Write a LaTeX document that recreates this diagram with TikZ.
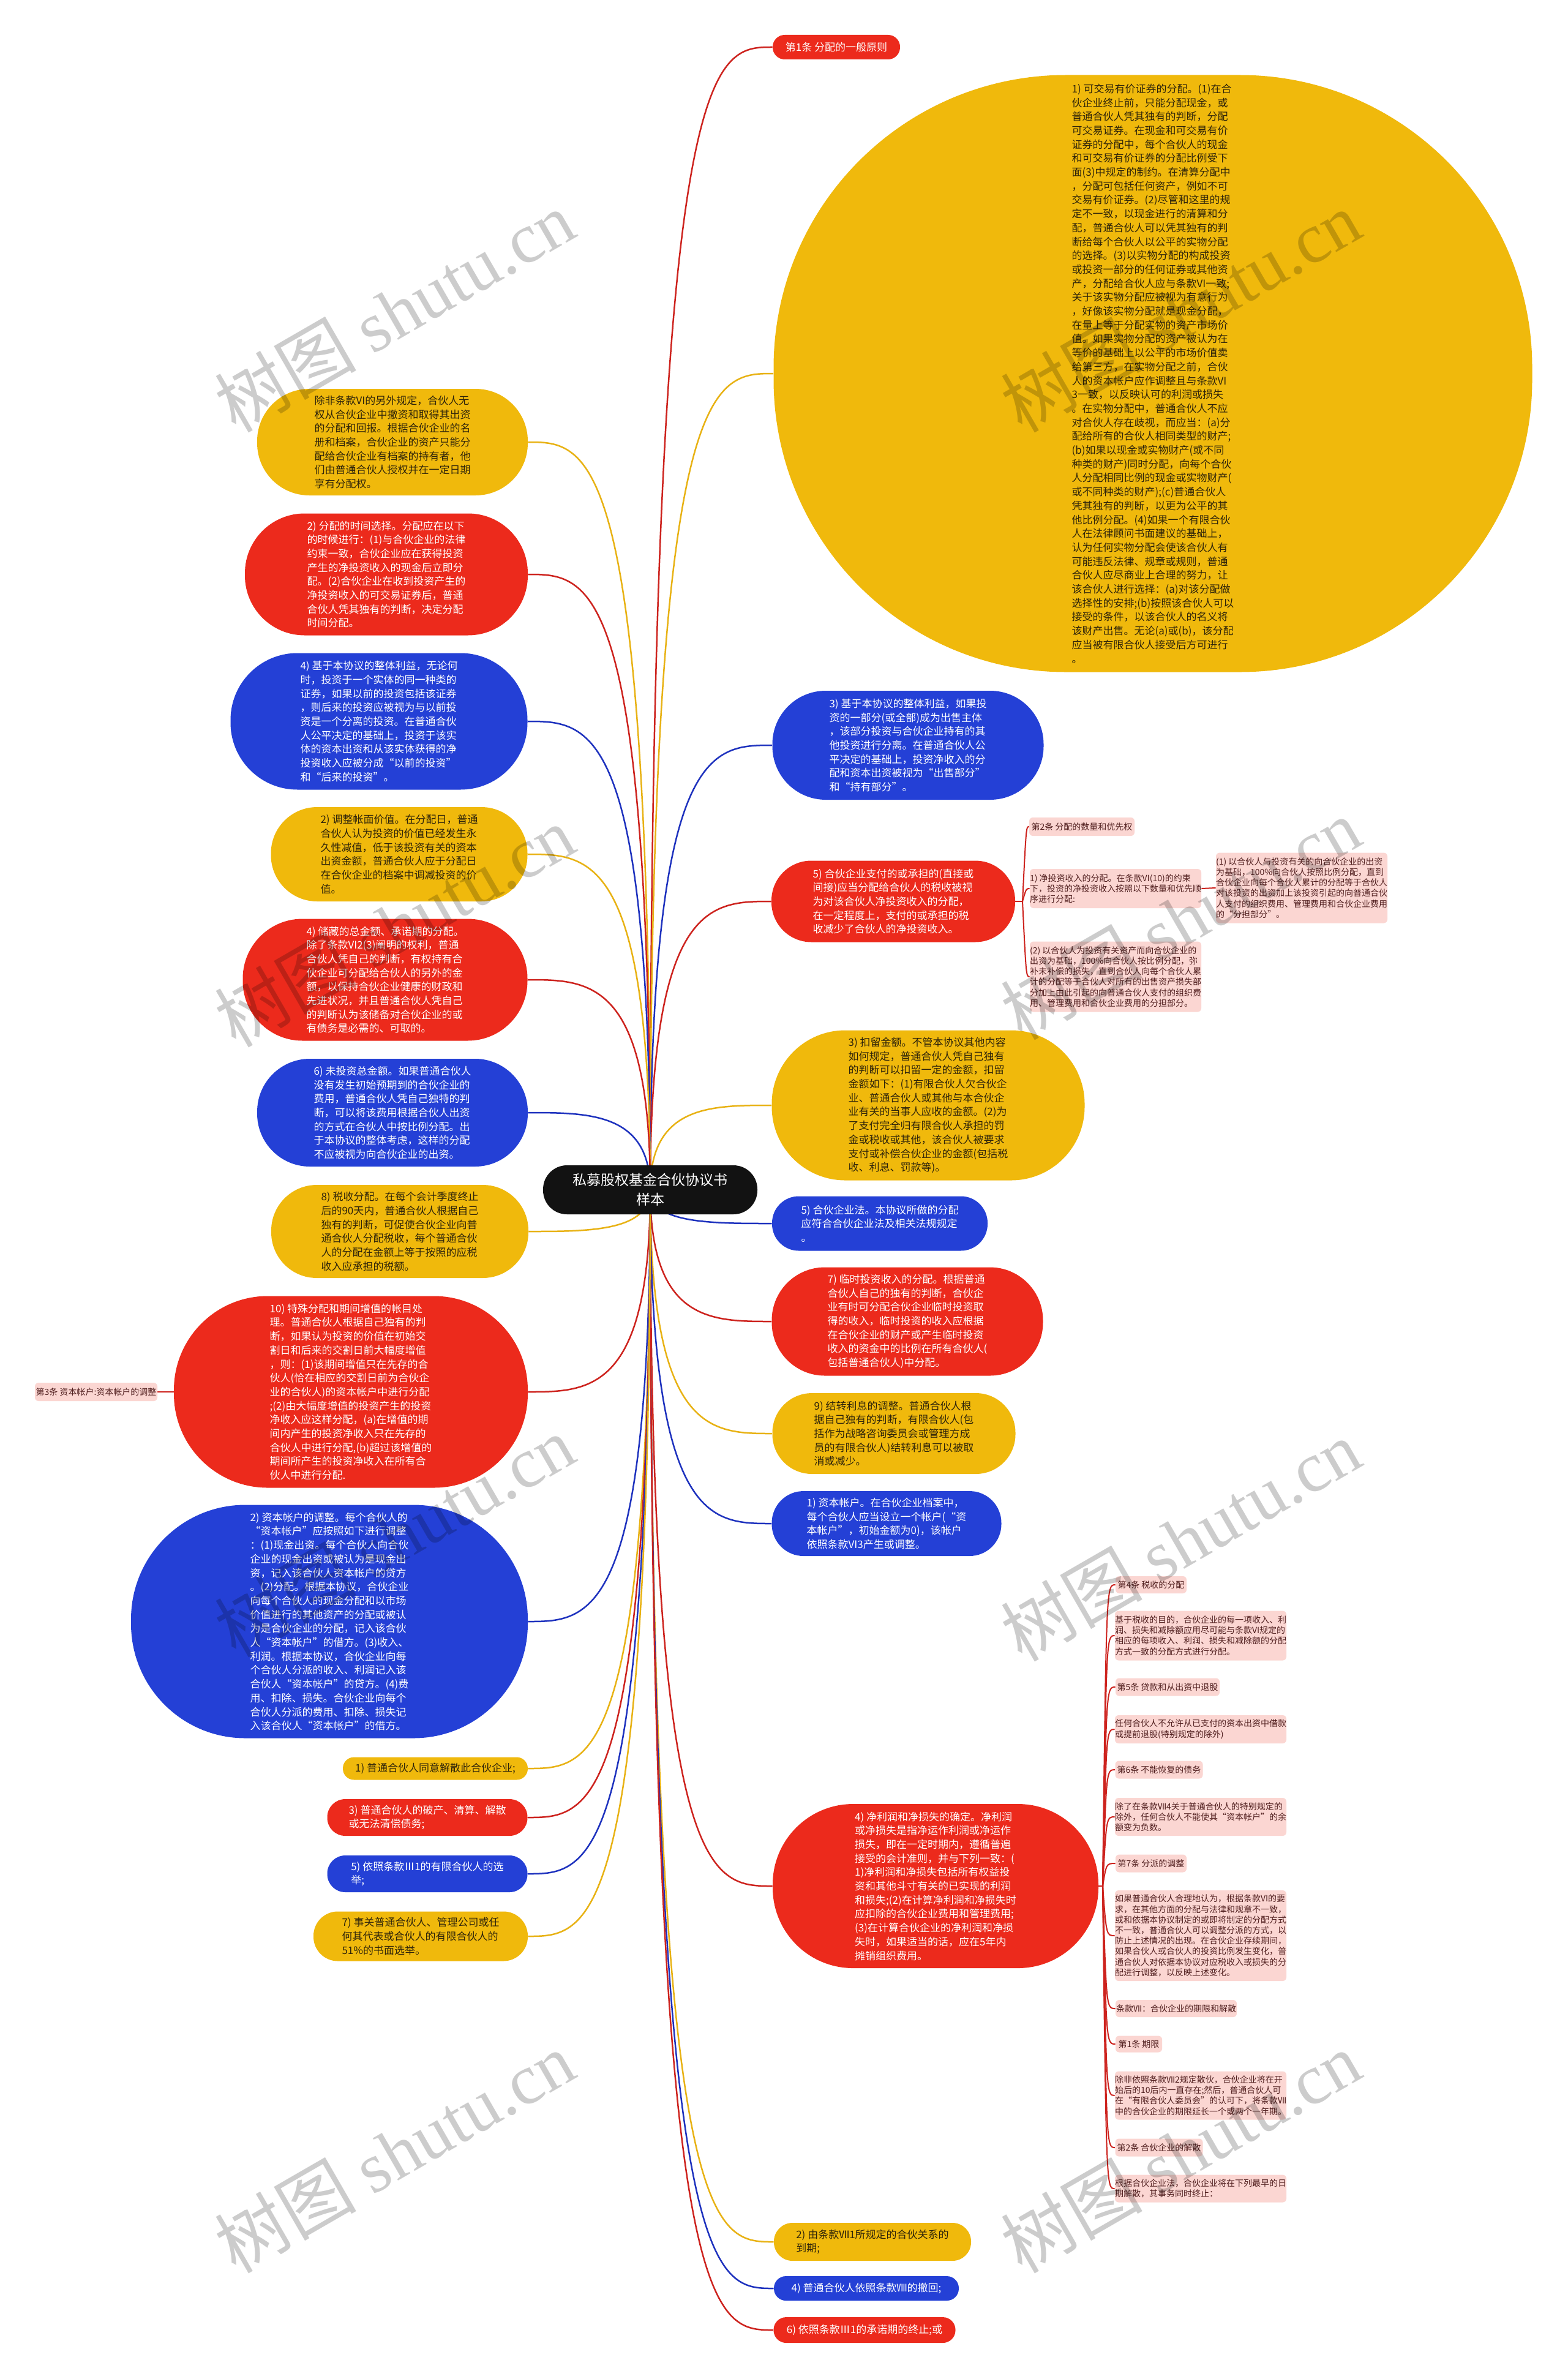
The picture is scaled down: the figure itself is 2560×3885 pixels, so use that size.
\documentclass[tikz,border=0pt]{standalone}
\usepackage{fontspec}
\setmainfont{Noto Sans CJK SC}
\newfontfamily\wmlatin{Liberation Serif}
\usetikzlibrary{calc}
\pgfdeclarelayer{bg}
\pgfsetlayers{bg,main}
\definecolor{cy}{RGB}{240,185,12}
\definecolor{cr}{RGB}{236,42,28}
\definecolor{cb}{RGB}{36,64,214}
\definecolor{cp}{RGB}{251,214,210}
\definecolor{tyel}{RGB}{45,35,10}
\definecolor{tpink}{RGB}{80,30,30}
\definecolor{ly}{RGB}{232,178,20}
\definecolor{lr}{RGB}{205,35,30}
\definecolor{lb}{RGB}{30,50,190}
\tikzset{
  mfont/.style={font=\fontsize{8.5}{11.35}\selectfont},
  yn/.style={mfont, fill=cy, text=tyel},
  rn/.style={mfont, fill=cr, text=white},
  bn/.style={mfont, fill=cb, text=white},
  pn/.style={font=\fontsize{7}{8.6}\selectfont, fill=cp, text=tpink},
  yl/.style={draw=ly, line width=1.25pt},
  rl/.style={draw=lr, line width=1.25pt},
  bl/.style={draw=lb, line width=1.25pt},
  pl/.style={draw=lr, line width=1pt},
  wm/.style={rotate=30, text=black, text opacity=0.2, font=\fontsize{58}{60}\selectfont}
}
\newcommand\mnode[7]{\node[#6, align=left, inner sep=0pt, minimum width=#4*0.5pt, minimum height=#5*0.5pt, rounded corners=#5*0.245pt] (#1) at (#2,#3) {#7};}
\newcommand\pnode[6]{\node[pn, align=left, inner sep=0pt, minimum width=#4*0.5pt, minimum height=#5*0.5pt, rounded corners=3pt] (#1) at (#2,#3) {#6};}
\newcommand\ctrl[2]{\draw[#1] (C.center) .. controls (C.center |- #2) and ($(C.center |- #2)!0.5!(#2)$) .. (#2);}
\newcommand\spine[2]{\draw[pl] (#1) .. controls ($(#1 |- #2)+(6,0)$) .. (#2);}
\begin{document}
\begin{tikzpicture}[x=0.5pt, y=-0.5pt]
\useasboundingbox (0,0) rectangle (2560,3885);
\begin{pgfonlayer}{bg}
\fill[white] (0,0) rectangle (2560,3885);
\end{pgfonlayer}

% centre
\node[fill=black!93, text=white, align=center, inner sep=0pt, minimum width=175pt, minimum height=40pt, rounded corners=19.5pt, font=\fontsize{11.5}{16}\selectfont] (C) at (1062,1943) {私募股权基金合伙协议书\\样本};

% right side
\mnode{R0}{1366}{77}{208}{40}{rn}{第1条 分配的一般原则}
\mnode{R1}{1883}{610}{1239}{975}{yn}{1) 可交易有价证券的分配。(1)在合\\伙企业终止前，只能分配现金，或\\普通合伙人凭其独有的判断，分配\\可交易证券。在现金和可交易有价\\证券的分配中，每个合伙人的现金\\和可交易有价证券的分配比例受下\\面(3)中规定的制约。在清算分配中\\，分配可包括任何资产，例如不可\\交易有价证券。(2)尽管和这里的规\\定不一致，以现金进行的清算和分\\配，普通合伙人可以凭其独有的判\\断给每个合伙人以公平的实物分配\\的选择。(3)以实物分配的构成投资\\或投资一部分的任何证券或其他资\\产，分配给合伙人应与条款VI一致;\\关于该实物分配应被视为有意行为\\，好像该实物分配就是现金分配，\\在量上等于分配实物的资产市场价\\值。如果实物分配的资产被认为在\\等价的基础上以公平的市场价值卖\\给第三方，在实物分配之前，合伙\\人的资本帐户应作调整且与条款VI\\3一致，以反映认可的利润或损失\\。在实物分配中，普通合伙人不应\\对合伙人存在歧视，而应当：(a)分\\配给所有的合伙人相同类型的财产;\\(b)如果以现金或实物财产(或不同\\种类的财产)同时分配，向每个合伙\\人分配相同比例的现金或实物财产(\\或不同种类的财产);(c)普通合伙人\\凭其独有的判断，以更为公平的其\\他比例分配。(4)如果一个有限合伙\\人在法律顾问书面建议的基础上，\\认为任何实物分配会使该合伙人有\\可能违反法律、规章或规则，普通\\合伙人应尽商业上合理的努力，让\\该合伙人进行选择：(a)对该分配做\\选择性的安排;(b)按照该合伙人可以\\接受的条件，以该合伙人的名义将\\该财产出售。无论(a)或(b)，该分配\\应当被有限合伙人接受后方可进行\\。}
\mnode{R2}{1483}{1217}{443}{178}{bn}{3) 基于本协议的整体利益，如果投\\资的一部分(或全部)成为出售主体\\，该部分投资与合伙企业持有的其\\他投资进行分离。在普通合伙人公\\平决定的基础上，投资净收入的分\\配和资本出资被视为“出售部分”\\和“持有部分”。}
\mnode{R3}{1459}{1472}{398}{133}{rn}{5) 合伙企业支付的或承担的(直接或\\间接)应当分配给合伙人的税收被视\\为对该合伙人净投资收入的分配，\\在一定程度上，支付的或承担的税\\收减少了合伙人的净投资收入。}
\pnode{R3a}{1767}{1350}{172}{30}{第2条 分配的数量和优先权}
\pnode{R3b}{1822}{1451}{279}{64}{1) 净投资收入的分配。在条款VI(10)的约束\\下，投资的净投资收入按照以下数量和优先顺\\序进行分配:}
\pnode{R3d}{2126}{1450}{279}{115}{(1) 以合伙人与投资有关的向合伙企业的出资\\为基础，100\%向合伙人按照比例分配，直到\\合伙企业向每个合伙人累计的分配等于合伙人\\对该投资的出资加上该投资引起的向普通合伙\\人支付的组织费用、管理费用和合伙企业费用\\的“分担部分”。}
\pnode{R3c}{1822}{1595}{279}{115}{(2) 以合伙人为投资有关资产而向合伙企业的\\出资为基础，100\%向合伙人按比例分配，弥\\补未补偿的损失，直到合伙人向每个合伙人累\\计的分配等于合伙人对所有的出售资产损失部\\分加上由此引起的向普通合伙人支付的组织费\\用、管理费用和合伙企业费用的分担部分。}
\mnode{R4}{1516}{1805}{511}{245}{yn}{3) 扣留金额。不管本协议其他内容\\如何规定，普通合伙人凭自己独有\\的判断可以扣留一定的金额，扣留\\金额如下：(1)有限合伙人欠合伙企\\业、普通合伙人或其他与本合伙企\\业有关的当事人应收的金额。(2)为\\了支付完全归有限合伙人承担的罚\\金或税收或其他，该合伙人被要求\\支付或补偿合伙企业的金额(包括税\\收、利息、罚款等)。}
\mnode{R5}{1437}{1998}{352}{89}{bn}{5) 合伙企业法。本协议所做的分配\\应符合合伙企业法及相关法规规定\\。}
\mnode{R6}{1482}{2158}{443}{177}{rn}{7) 临时投资收入的分配。根据普通\\合伙人自己的独有的判断，合伙企\\业有时可分配合伙企业临时投资取\\得的收入，临时投资的收入应根据\\在合伙企业的财产或产生临时投资\\收入的资金中的比例在所有合伙人(\\包括普通合伙人)中分配。}
\mnode{R7}{1460}{2341}{397}{132}{yn}{9) 结转利息的调整。普通合伙人根\\据自己独有的判断，有限合伙人(包\\括作为战略咨询委员会或管理方成\\员的有限合伙人)结转利息可以被取\\消或减少。}
\mnode{R8}{1448}{2488}{375}{106}{bn}{1) 资本帐户。在合伙企业档案中，\\每个合伙人应当设立一个帐户(“资\\本帐户”，初始金额为0)，该帐户\\依照条款VI3产生或调整。}
\mnode{R9}{1528}{3080}{532}{268}{rn}{4) 净利润和净损失的确定。净利润\\或净损失是指净运作利润或净运作\\损失，即在一定时期内，遵循普遍\\接受的会计准则，并与下列一致：(\\1)净利润和净损失包括所有权益投\\资和其他斗寸有关的已实现的利润\\和损失;(2)在计算净利润和净损失时\\应扣除的合伙企业费用和管理费用;\\(3)在计算合伙企业的净利润和净损\\失时，如果适当的话，应在5年内\\摊销组织费用。}
\pnode{P1}{1880}{2588}{116}{28}{第4条 税收的分配}
\pnode{P2}{1961}{2671}{278}{81}{基于税收的目的，合伙企业的每一项收入、利\\润、损失和减除额应用尽可能与条款VI规定的\\相应的每项收入、利润、损失和减除额的分配\\方式一致的分配方式进行分配。}
\pnode{P3}{1907}{2755}{170}{29}{第5条 贷款和从出资中退股}
\pnode{P4}{1961}{2824}{278}{46}{任何合伙人不允许从已支付的资本出资中借款\\或提前退股(特别规定的除外)}
\pnode{P5}{1893}{2890}{143}{29}{第6条 不能恢复的债务}
\pnode{P6}{1961}{2967}{278}{62}{除了在条款Ⅶ4关于普通合伙人的特别规定的\\除外，任何合伙人不能使其“资本帐户”的余\\额变为负数。}
\pnode{P7}{1880}{3043}{116}{29}{第7条 分派的调整}
\pnode{P8}{1961}{3161}{278}{148}{如果普通合伙人合理地认为，根据条款VI的要\\求，在其他方面的分配与法律和规章不一致，\\或和依据本协议制定的或即将制定的分配方式\\不一致，普通合伙人可以调整分派的方式，以\\防止上述情况的出现。在合伙企业存续期间，\\如果合伙人或合伙人的投资比例发生变化，普\\通合伙人对依据本协议对应税收入或损失的分\\配进行调整，以反映上述变化。}
\pnode{P9}{1921}{3280}{198}{28}{条款Ⅶ：合伙企业的期限和解散}
\pnode{P10}{1860}{3338}{76}{27}{第1条 期限}
\pnode{P11}{1961}{3422}{278}{79}{除非依照条款Ⅶ2规定散伙，合伙企业将在开\\始后的10后内一直存在;然后，普通合伙人可\\在“有限合伙人委员会”的认可下，将条款Ⅶ\\中的合伙企业的期限延长一个或两个一年期。}
\pnode{P12}{1893}{3507}{143}{29}{第2条 合伙企业的解散}
\pnode{P13}{1961}{3574}{278}{45}{根据合伙企业法，合伙企业将在下列最早的日\\期解散，其事务同时终止：}
\mnode{R10}{1425}{3661}{322}{62}{yn}{2) 由条款Ⅶ1所规定的合伙关系的\\到期;}
\mnode{R11}{1415}{3737}{302}{40}{bn}{4) 普通合伙人依照条款Ⅷ的撤回;}
\mnode{R12}{1412}{3805}{297}{42}{rn}{6) 依照条款Ⅲ1的承诺期的终止;或}

% left side
\mnode{L1}{641}{722}{442}{174}{yn}{除非条款VI的另外规定，合伙人无\\权从合伙企业中撤资和取得其出资\\的分配和回报。根据合伙企业的名\\册和档案，合伙企业的资产只能分\\配给合伙企业有档案的持有者，他\\们由普通合伙人授权并在一定日期\\享有分配权。}
\mnode{L2}{631}{938}{462}{199}{rn}{2) 分配的时间选择。分配应在以下\\的时候进行：(1)与合伙企业的法律\\约束一致，合伙企业应在获得投资\\产生的净投资收入的现金后立即分\\配。(2)合伙企业在收到投资产生的\\净投资收入的可交易证券后，普通\\合伙人凭其独有的判断，决定分配\\时间分配。}
\mnode{L3}{619}{1178}{485}{223}{bn}{4) 基于本协议的整体利益，无论何\\时，投资于一个实体的同一种类的\\证券，如果以前的投资包括该证券\\，则后来的投资应被视为与以前投\\资是一个分离的投资。在普通合伙\\人公平决定的基础上，投资于该实\\体的资本出资和从该实体获得的净\\投资收入应被分成“以前的投资”\\和“后来的投资”。}
\mnode{L4}{652}{1395}{419}{154}{yn}{2) 调整帐面价值。在分配日，普通\\合伙人认为投资的价值已经发生永\\久性减值，低于该投资有关的资本\\出资金额，普通合伙人应于分配日\\在合伙企业的档案中调减投资的价\\值。}
\mnode{L5}{629}{1600}{465}{199}{rn}{4) 储藏的总金额、承诺期的分配。\\除了条款VI2(3)阐明的权利，普通\\合伙人凭自己的判断，有权持有合\\伙企业可分配给合伙人的另外的金\\额，以保持合伙企业健康的财政和\\先进状况，并且普通合伙人凭自己\\的判断认为该储备对合伙企业的或\\有债务是必需的、可取的。}
\mnode{L6}{641}{1817}{442}{176}{bn}{6) 未投资总金额。如果普通合伙人\\没有发生初始预期到的合伙企业的\\费用，普通合伙人凭自己独特的判\\断，可以将该费用根据合伙人出资\\的方式在合伙人中按比例分配。出\\于本协议的整体考虑，这样的分配\\不应被视为向合伙企业的出资。}
\mnode{L7}{653}{2011}{420}{152}{yn}{8) 税收分配。在每个会计季度终止\\后的90天内，普通合伙人根据自己\\独有的判断，可促使合伙企业向普\\通合伙人分配税收，每个普通合伙\\人的分配在金额上等于按照的应税\\收入应承担的税额。}
\mnode{L8}{573}{2273}{578}{313}{rn}{10) 特殊分配和期间增值的帐目处\\理。普通合伙人根据自己独有的判\\断，如果认为投资的价值在初始交\\割日和后来的交割日前大幅度增值\\，则：(1)该期间增值只在先存的合\\伙人(恰在相应的交割日前为合伙企\\业的合伙人)的资本帐户中进行分配\\;(2)由大幅度增值的投资产生的投资\\净收入应这样分配，(a)在增值的期\\间内产生的投资净收入只在先存的\\合伙人中进行分配,(b)超过该增值的\\期间所产生的投资净收入在所有合\\伙人中进行分配.}
\pnode{L8p}{157}{2273}{200}{30}{第3条 资本帐户:资本帐户的调整}
\mnode{L9}{538}{2648}{648}{381}{bn}{2) 资本帐户的调整。每个合伙人的\\“资本帐户”应按照如下进行调整\\：(1)现金出资。每个合伙人向合伙\\企业的现金出资或被认为是现金出\\资，记入该合伙人资本帐户的贷方\\。(2)分配。根据本协议，合伙企业\\向每个合伙人的现金分配和以市场\\价值进行的其他资产的分配或被认\\为是合伙企业的分配，记入该合伙\\人“资本帐户”的借方。(3)收入、\\利润。根据本协议，合伙企业向每\\个合伙人分派的收入、利润记入该\\合伙人“资本帐户”的贷方。(4)费\\用、扣除、损失。合伙企业向每个\\合伙人分派的费用、扣除、损失记\\入该合伙人“资本帐户”的借方。}
\mnode{L10}{711}{2888}{302}{37}{yn}{1) 普通合伙人同意解散此合伙企业;}
\mnode{L11}{698}{2968}{327}{60}{rn}{3) 普通合伙人的破产、清算、解散\\或无法清偿债务;}
\mnode{L12}{698}{3060}{327}{60}{bn}{5) 依照条款Ⅲ1的有限合伙人的选\\举;}
\mnode{L13}{687}{3162}{350}{81}{yn}{7) 事关普通合伙人、管理公司或任\\何其代表或合伙人的有限合伙人的\\51\%的书面选举。}

\coordinate (S3) at (1670,1472);
\coordinate (S9) at (1801,3080);

\begin{pgfonlayer}{bg}
\ctrl{rl}{R0.west}
\ctrl{yl}{R1.west}
\ctrl{bl}{R2.west}
\ctrl{rl}{R3.west}
\ctrl{yl}{R4.west}
\ctrl{bl}{R5.west}
\ctrl{rl}{R6.west}
\ctrl{yl}{R7.west}
\ctrl{bl}{R8.west}
\ctrl{rl}{R9.west}
\ctrl{yl}{R10.west}
\ctrl{bl}{R11.west}
\ctrl{rl}{R12.west}
\ctrl{yl}{L1.east}
\ctrl{rl}{L2.east}
\ctrl{bl}{L3.east}
\ctrl{yl}{L4.east}
\ctrl{rl}{L5.east}
\ctrl{bl}{L6.east}
\ctrl{yl}{L7.east}
\ctrl{rl}{L8.east}
\ctrl{bl}{L9.east}
\ctrl{yl}{L10.east}
\ctrl{rl}{L11.east}
\ctrl{bl}{L12.east}
\ctrl{yl}{L13.east}
\draw[pl] (R3.east) -- (S3);
\spine{S3}{R3a.west}
\spine{S3}{R3b.west}
\spine{S3}{R3c.west}
\draw[pl] (R3b.east) -- (R3d.west);
\draw[pl] (L8.west) -- (L8p.east);
\draw[pl] (R9.east) -- (S9);
\spine{S9}{P1.west}
\spine{S9}{P2.west}
\spine{S9}{P3.west}
\spine{S9}{P4.west}
\spine{S9}{P5.west}
\spine{S9}{P6.west}
\spine{S9}{P7.west}
\spine{S9}{P8.west}
\spine{S9}{P9.west}
\spine{S9}{P10.west}
\spine{S9}{P11.west}
\spine{S9}{P12.west}
\spine{S9}{P13.west}
\end{pgfonlayer}

% watermarks
\node[wm] (W1) at (644,508) {树图 {\wmlatin shutu.cn}};
\node[wm] (W2) at (1928,508) {树图 {\wmlatin shutu.cn}};
\node[wm] (W3) at (644,1512) {树图 {\wmlatin shutu.cn}};
\node[wm] (W4) at (1928,1500) {树图 {\wmlatin shutu.cn}};
\node[wm] (W5) at (644,2508) {树图 {\wmlatin shutu.cn}};
\node[wm] (W6) at (1928,2515) {树图 {\wmlatin shutu.cn}};
\node[wm] (W7) at (644,3514) {树图 {\wmlatin shutu.cn}};
\node[wm] (W8) at (1928,3514) {树图 {\wmlatin shutu.cn}};
\end{tikzpicture}
\end{document}
